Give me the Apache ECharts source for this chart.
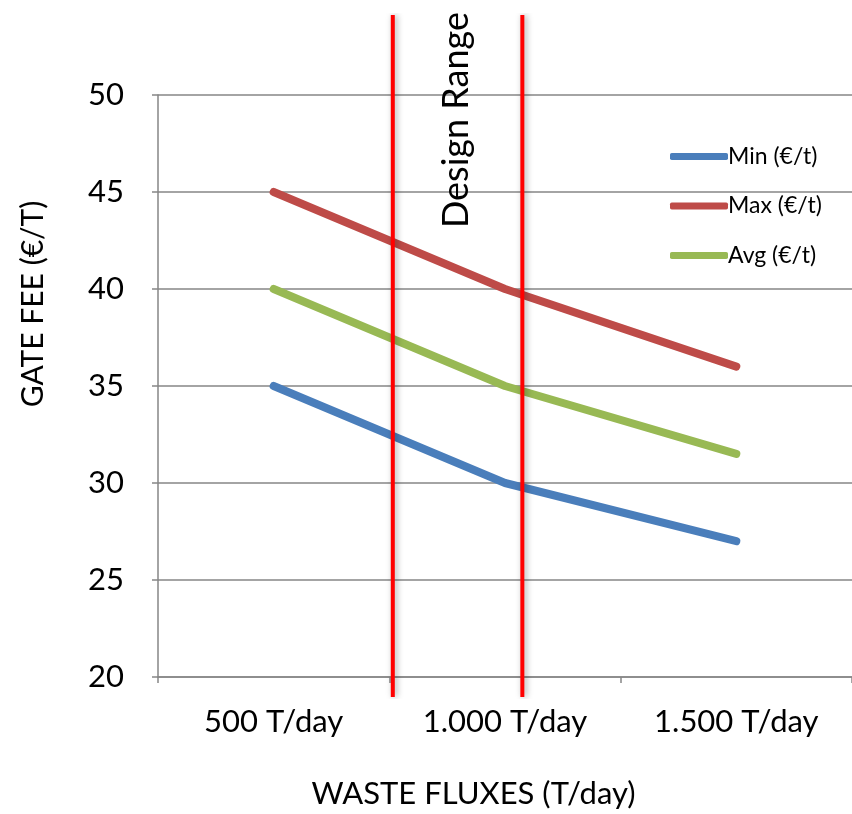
<!DOCTYPE html>
<html>
<head>
<meta charset="utf-8">
<script src="https://cdn.jsdelivr.net/npm/echarts@6/dist/echarts.min.js"></script>
<style>
  html, body { margin: 0; padding: 0; background: #fff; }
  #chart { width: 852px; height: 814px; }
</style>
</head>
<body>
<div id="chart"></div>
<script>
// categories and series
const categories = ['500 T/day', '1.000 T/day', '1.500 T/day']
const minFee = [35, 30, 27]
const maxFee = [45, 40, 36]
const avgFee = [40, 35, 31.5]
const yTicks = { min: 20, max: 50, step: 5 }

// design range borders, in category units (0 = left edge, 3 = right edge)
const designRange = [1.015, 1.575]

const FONT = 'Lato, "Open Sans", sans-serif'
const axisGray = '#868686'

const chart = echarts.init(document.getElementById('chart'))

const lineSeries = (name, data, color) => ({
  name,
  type: 'line',
  data,
  xAxisIndex: 0,
  yAxisIndex: 0,
  symbol: 'none',
  lineStyle: { width: 8, color, cap: 'round', join: 'round' },
  itemStyle: { color },
  z: 3,
})

// red vertical markers drawn on a second, hidden grid that spans taller
const rangeSeries = designRange.map((x, i) => ({
  name: 'range' + i,
  type: 'line',
  xAxisIndex: 1,
  yAxisIndex: 1,
  data: [[x, 0], [x, 1]],
  symbol: 'none',
  silent: true,
  lineStyle: {
    width: 4,
    color: '#ff0000',
    shadowBlur: 6,
    shadowColor: 'rgba(0,0,0,0.35)',
    shadowOffsetX: 2,
  },
  z: 5,
}))

chart.setOption({
  animation: false,
  textStyle: { fontFamily: FONT },
  grid: [
    { left: 158, width: 697, top: 95, bottom: 129 },
    { left: 158, width: 697, top: 15, bottom: 117 },
  ],
  legend: {
    orient: 'vertical',
    left: 665,
    top: 140,
    itemWidth: 58,
    itemHeight: 7,
    itemGap: 26.5,
    icon: 'roundRect',
    data: ['Min (€/t)', 'Max (€/t)', 'Avg (€/t)'],
    textStyle: { fontSize: 23, color: '#000', fontFamily: FONT, padding: [0, 0, 0, -5] },
  },
  xAxis: [
    {
      type: 'category',
      data: categories,
      boundaryGap: true,
      name: 'WASTE FLUXES (T/day)',
      nameLocation: 'middle',
      nameGap: 101,
      nameTextStyle: { fontSize: 31, color: '#000', padding: [0, 63, 0, 0] },
      axisLine: { lineStyle: { color: axisGray, width: 1.5 } },
      axisTick: { show: true, length: 6, lineStyle: { color: axisGray, width: 1.5 } },
      axisLabel: { fontSize: 31, color: '#000', margin: 29 },
    },
    {
      type: 'value',
      gridIndex: 1,
      min: 0,
      max: 3,
      show: false,
    },
  ],
  yAxis: [
    {
      type: 'value',
      min: yTicks.min,
      max: yTicks.max,
      interval: yTicks.step,
      name: 'GATE FEE (€/T)',
      nameLocation: 'middle',
      nameGap: 110,
      nameTextStyle: { fontSize: 30, color: '#000', padding: [0, 0, 0, 164] },
      axisLine: { show: true, lineStyle: { color: axisGray, width: 1.5 } },
      axisTick: { show: true, length: 6, lineStyle: { color: axisGray, width: 1.5 } },
      axisLabel: { fontSize: 31, color: '#000', margin: 34 },
      splitLine: { lineStyle: { color: axisGray, width: 1.5 } },
    },
    {
      type: 'value',
      gridIndex: 1,
      min: 0,
      max: 1,
      show: false,
    },
  ],
  graphic: [
    {
      type: 'text',
      x: 456,
      y: 120,
      rotation: Math.PI / 2,
      style: {
        text: 'Design Range',
        fontSize: 36,
        fontFamily: FONT,
        fill: '#000',
        align: 'center',
        verticalAlign: 'middle',
      },
      z: 10,
    },
  ],
  series: [
    lineSeries('Min (€/t)', minFee, '#4a7ebb'),
    lineSeries('Max (€/t)', maxFee, '#be4b48'),
    lineSeries('Avg (€/t)', avgFee, '#98b954'),
    ...rangeSeries,
  ],
})
</script>
</body>
</html>
